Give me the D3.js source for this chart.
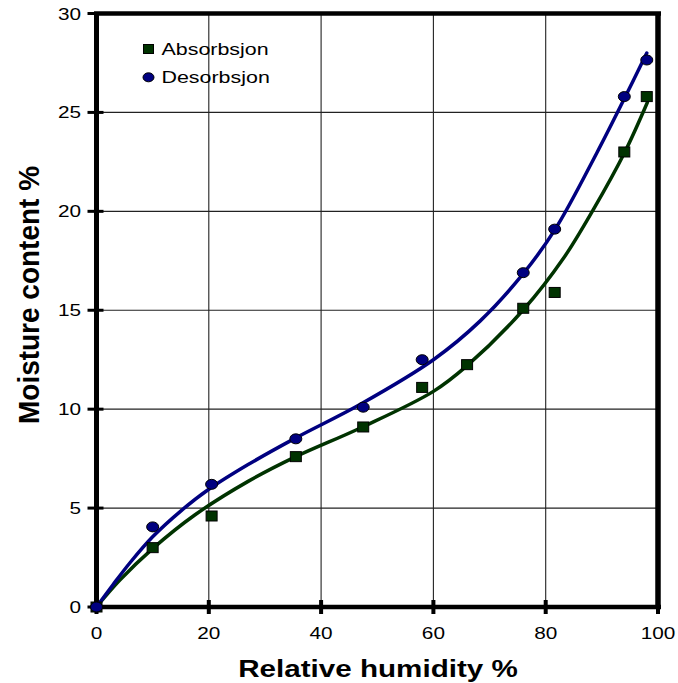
<!DOCTYPE html>
<html>
<head>
<meta charset="utf-8">
<script src="https://cdn.jsdelivr.net/npm/d3@7"></script>
<style>
  html, body { margin: 0; padding: 0; background: #fff; }
  svg { display: block; }
  text { font-family: "Liberation Sans", Arial, sans-serif; fill: #000; }
</style>
</head>
<body>
<div id="chart"></div>
<script>
// measured points
var absX = [0, 10, 20.5, 35.5, 47.5, 58, 66, 76, 81.6, 94, 98];
var absY = [0, 3.0, 4.6, 7.6, 9.1, 11.1, 12.25, 15.1, 15.9, 23.0, 25.8];
var desX = [0, 10, 20.5, 35.5, 47.5, 58, 76, 81.6, 94, 98];
var desY = [0, 4.05, 6.2, 8.5, 10.1, 12.5, 16.9, 19.1, 25.8, 27.65];

// fitted curves
var absFitX = [0, 4.2, 10, 17.5, 27, 35.5, 47, 60, 66, 76.1, 83.1, 88.5, 94.1, 98.1];
var absFitY = [0, 1.37, 2.95, 4.65, 6.35, 7.6, 9.05, 10.9, 12.2, 15.05, 17.6, 20.1, 23.0, 25.5];
var desFitX = [0, 3, 6, 10, 15, 20, 27, 35.5, 47, 60, 68.3, 76, 81.7, 89.1, 94.1, 98];
var desFitY = [0, 1.15, 2.25, 3.55, 4.85, 5.95, 7.2, 8.55, 10.25, 12.5, 14.45, 16.85, 19.1, 22.95, 25.75, 28.0];

var seriesNames = ["Absorbsjon", "Desorbsjon"];
var xTicks = [0, 20, 40, 60, 80, 100];
var yTicks = [0, 5, 10, 15, 20, 25, 30];

var width = 678;
var height = 683;
var padding = { top: 13.5, right: 20, bottom: 76, left: 96.5 };
var sx = 1.26; // the original is stretched sideways

var absColor = "#003300";
var desColor = "#000080";

var svg = d3.select("#chart")
    .append("svg")
    .attr("width", width)
    .attr("height", height);

var xScale = d3.scaleLinear()
    .domain([0, 100])
    .range([padding.left, width - padding.right]);
var yScale = d3.scaleLinear()
    .domain([0, 30])
    .range([height - padding.bottom, padding.top]);

function zip(xs, ys) {
    return xs.map(function(x, i){ return [x, ys[i]]; });
}

function putText(txt, x, y, size, anchor, weight, rot, stretch) {
    var k = stretch || sx;
    var t = svg.append("text")
        .attr("transform", "translate(" + x + "," + y + ") scale(" + k + ",1)" + (rot ? " rotate(" + rot + ")" : ""))
        .attr("font-size", size)
        .attr("text-anchor", anchor)
        .text(txt);
    if (weight) t.attr("font-weight", weight);
    return t;
}

// grid
svg.append("g")
    .selectAll("line")
    .data(xTicks.slice(1, -1))
    .enter()
    .append("line")
    .attr("x1", function(d){ return xScale(d); })
    .attr("x2", function(d){ return xScale(d); })
    .attr("y1", yScale(30))
    .attr("y2", yScale(0))
    .attr("stroke", "#222")
    .attr("stroke-width", 1.1);
svg.append("g")
    .selectAll("line")
    .data(yTicks.slice(1, -1))
    .enter()
    .append("line")
    .attr("x1", xScale(0))
    .attr("x2", xScale(100))
    .attr("y1", function(d){ return yScale(d); })
    .attr("y2", function(d){ return yScale(d); })
    .attr("stroke", "#222")
    .attr("stroke-width", 1.1);

// ticks
svg.append("g")
    .selectAll("line")
    .data(yTicks)
    .enter()
    .append("line")
    .attr("x1", xScale(0) - 9)
    .attr("x2", xScale(0) + 7)
    .attr("y1", function(d){ return yScale(d); })
    .attr("y2", function(d){ return yScale(d); })
    .attr("stroke", "#000")
    .attr("stroke-width", 3);
svg.append("g")
    .selectAll("line")
    .data(xTicks)
    .enter()
    .append("line")
    .attr("x1", function(d){ return xScale(d); })
    .attr("x2", function(d){ return xScale(d); })
    .attr("y1", yScale(0) - 7)
    .attr("y2", yScale(0) + 7)
    .attr("stroke", "#000")
    .attr("stroke-width", 4);

// frame
svg.append("line")
    .attr("x1", xScale(0) - 2.5).attr("x2", xScale(100) + 3)
    .attr("y1", yScale(30)).attr("y2", yScale(30))
    .attr("stroke", "#000").attr("stroke-width", 4.5);
svg.append("line")
    .attr("x1", xScale(0) - 2.5).attr("x2", xScale(100) + 3)
    .attr("y1", yScale(0)).attr("y2", yScale(0))
    .attr("stroke", "#000").attr("stroke-width", 4.5);
svg.append("line")
    .attr("x1", xScale(0)).attr("x2", xScale(0))
    .attr("y1", yScale(30)).attr("y2", yScale(0))
    .attr("stroke", "#000").attr("stroke-width", 5);
svg.append("line")
    .attr("x1", xScale(100)).attr("x2", xScale(100))
    .attr("y1", yScale(30)).attr("y2", yScale(0))
    .attr("stroke", "#000").attr("stroke-width", 5.5);

// tick labels
yTicks.forEach(function(d){
    putText(d, 81, yScale(d) + 6, 16.5, "end");
});
xTicks.forEach(function(d){
    putText(d, xScale(d), 639, 16.5, "middle");
});

// axis titles
putText("Relative humidity %", 378, 677, 23.5, "middle", "bold");
putText("Moisture content %", 39, 295, 28, "middle", "bold", -90, 1.05);

// fitted lines
var linePath = d3.line()
    .x(function(d){ return xScale(d[0]); })
    .y(function(d){ return yScale(d[1]); })
    .curve(d3.curveCatmullRom.alpha(0.5));

svg.append("path")
    .attr("d", linePath(zip(absFitX, absFitY)))
    .attr("fill", "none")
    .attr("stroke", absColor)
    .attr("stroke-width", 3.5)
    .attr("stroke-linecap", "round");
svg.append("path")
    .attr("d", linePath(zip(desFitX, desFitY)))
    .attr("fill", "none")
    .attr("stroke", desColor)
    .attr("stroke-width", 3.5)
    .attr("stroke-linecap", "round");

// markers
svg.append("g")
    .selectAll("rect")
    .data(zip(absX, absY))
    .enter()
    .append("rect")
    .attr("x", function(d){ return xScale(d[0]) - 5.5; })
    .attr("y", function(d){ return yScale(d[1]) - 5; })
    .attr("width", 11)
    .attr("height", 10)
    .attr("fill", absColor)
    .attr("stroke", "#000")
    .attr("stroke-width", 1);
svg.append("g")
    .selectAll("ellipse")
    .data(zip(desX, desY))
    .enter()
    .append("ellipse")
    .attr("cx", function(d){ return xScale(d[0]); })
    .attr("cy", function(d){ return yScale(d[1]); })
    .attr("rx", 6)
    .attr("ry", 5)
    .attr("fill", desColor)
    .attr("stroke", "#000")
    .attr("stroke-width", 1);

// legend
svg.append("rect")
    .attr("x", 143.5).attr("y", 44.5)
    .attr("width", 10).attr("height", 9)
    .attr("fill", absColor).attr("stroke", "#000").attr("stroke-width", 1);
putText(seriesNames[0], 161.5, 54.5, 17, "start");
svg.append("ellipse")
    .attr("cx", 148.5).attr("cy", 77.3)
    .attr("rx", 5.5).attr("ry", 4.5)
    .attr("fill", desColor).attr("stroke", "#000").attr("stroke-width", 1);
putText(seriesNames[1], 161.5, 83, 17, "start");
</script>
</body>
</html>
